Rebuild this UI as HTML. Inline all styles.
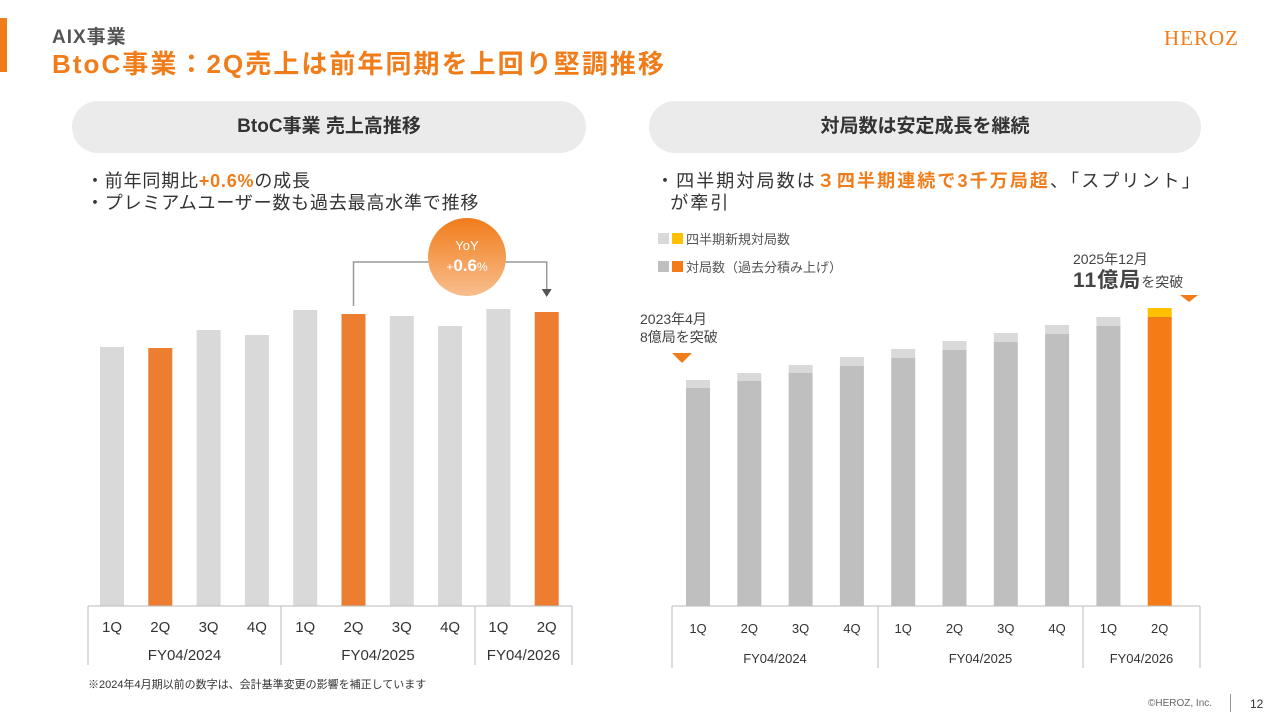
<!DOCTYPE html>
<html><head><meta charset="utf-8">
<style>
body{margin:0;width:1280px;height:720px;background:#fff;overflow:hidden;font-family:"Liberation Sans","Noto Sans CJK JP",sans-serif;position:relative}
.a{position:absolute}
.pill{position:absolute;background:#ebebeb;border-radius:26px;height:52px;line-height:52px;text-align:center;font-weight:bold;font-size:19px;color:#333}
</style></head><body>
<div class="a" style="left:0;top:18px;width:7px;height:54px;background:#f07c1a"></div>
<div class="a" style="left:52px;top:22px;font-size:19px;font-weight:bold;color:#555;letter-spacing:1px">AIX事業</div>
<div class="a" style="left:52px;top:44px;font-size:26px;font-weight:bold;color:#f07c1a;letter-spacing:2.05px">BtoC事業：2Q売上は前年同期を上回り堅調推移</div>
<div class="a" style="left:1164px;top:26px;font-family:'Liberation Serif',serif;font-size:21px;color:#f07c1a;letter-spacing:1px">HEROZ</div>
<div class="pill" style="left:72px;top:101px;width:514px">BtoC事業 売上高推移</div>
<div class="pill" style="left:649px;top:101px;width:552px">対局数は安定成長を継続</div>
<div class="a" style="left:86px;top:170px;font-size:18px;color:#333;line-height:22px;letter-spacing:0.8px">・前年同期比<b style="color:#f07c1a">+0.6%</b>の成長<br>・プレミアムユーザー数も過去最高水準で推移</div>
<div class="a" style="left:656px;top:170px;font-size:18px;color:#333;line-height:22px;letter-spacing:2.1px">・四半期対局数は<b style="color:#f07c1a">３四半期連続で3千万局超</b>、「スプリント」<br>&nbsp;&nbsp;が牽引</div>
<div class="a" style="left:658px;top:226px;font-size:13px;color:#555;line-height:28px">
<div><span style="display:inline-block;width:11px;height:11px;background:#d9d9d9;margin-right:3px"></span><span style="display:inline-block;width:11px;height:11px;background:#ffc000;margin-right:3px"></span>四半期新規対局数</div>
<div><span style="display:inline-block;width:11px;height:11px;background:#bfbfbf;margin-right:3px"></span><span style="display:inline-block;width:11px;height:11px;background:#f47b16;margin-right:3px"></span>対局数（過去分積み上げ）</div></div>
<div class="a" style="left:640px;top:310px;font-size:14px;color:#444;line-height:18px">2023年4月<br>8億局を突破</div>
<div class="a" style="left:1073px;top:249px;font-size:14px;color:#444;line-height:21px">2025年12月<br><b style="font-size:21px;letter-spacing:1px">11億局</b>を突破</div>
<div class="a" style="left:88px;top:676px;font-size:11px;color:#333">※2024年4月期以前の数字は、会計基準変更の影響を補正しています</div>
<div class="a" style="left:1148px;top:698px;font-size:10px;color:#666">©HEROZ, Inc.</div>
<div class="a" style="left:1230px;top:694px;width:1px;height:18px;background:#999"></div>
<div class="a" style="left:1250px;top:697px;font-size:12px;color:#333">12</div>
<svg class="a" style="left:0;top:0" width="1280" height="720" id="chart"></svg>
<script>
const quarters=["1Q","2Q","3Q","4Q","1Q","2Q","3Q","4Q","1Q","2Q"];
const fiscalYears=["FY04/2024","FY04/2025","FY04/2026"];
const salesValues=[259,258,276,271,296,292,290,280,297,294];
const cumulativeGames=[218,225,233,240,248,256,264,272,280,289];
const newGames=[8,8,8,9,9,9,9,9,9,9];
const highlight=[1,5,9];
const svg=document.getElementById('chart');
const NS='http://www.w3.org/2000/svg';
function mk(t,a,p){const e=document.createElementNS(NS,t);for(const k in a)e.setAttribute(k,a[k]);(p||svg).appendChild(e);return e;}
const base=606;
const lx=i=>112+i*48.3, ly=v=>base-v;
salesValues.forEach((v,i)=>{
 const r=mk('rect',{x:lx(i)-12,y:ly(v),width:24,height:base-ly(v),fill:highlight.includes(i)?'#ed7d31':'#d9d9d9'});
 
 
});
const rx=i=>698+i*51.3, ry=v=>base-v;
cumulativeGames.forEach((v,i)=>{
 const last=i===cumulativeGames.length-1;
 const r=mk('rect',{x:rx(i)-12,y:ry(v),width:24,height:base-ry(v),fill:last?'#f47b16':'#bfbfbf'});
 
 
 const n=mk('rect',{x:rx(i)-12,y:ry(v+newGames[i]),width:24,height:ry(v)-ry(v+newGames[i]),fill:last?'#ffc000':'#d9d9d9'});
 
 
});
function table(x0,x1,xf,qy,fy,seps,bottom,fs){
 mk('line',{x1:x0,y1:base,x2:x1,y2:base,stroke:'#bbb'});
 [x0,x1].forEach(x=>mk('line',{x1:x,y1:base,x2:x,y2:bottom,stroke:'#bbb'}));
 seps.forEach(x=>mk('line',{x1:x,y1:base,x2:x,y2:bottom,stroke:'#bbb'}));
 quarters.forEach((q,i)=>{const t=mk('text',{x:xf(i),y:qy,'text-anchor':'middle','font-size':fs,fill:'#333'});t.textContent=q;
  });
 const edges=[x0,...seps,x1];
 fiscalYears.forEach((f,i)=>{const t=mk('text',{x:(edges[i]+edges[i+1])/2,y:fy,'text-anchor':'middle','font-size':fs,fill:'#333'});t.textContent=f;
  });
}
table(88,572,lx,632,660,[281,475],665,15);
table(672,1200,rx,633,663,[878,1083],668,13);
mk('polyline',{points:`${lx(5)},${ly(salesValues[5])-8} ${lx(5)},262 ${lx(9)},262 ${lx(9)},290`,fill:'none',stroke:'#999','stroke-width':1.5});
mk('polygon',{points:`${lx(9)-5},289 ${lx(9)+5},289 ${lx(9)},297`,fill:'#555'});
const g=mk('defs',{});const lg=mk('linearGradient',{id:'og',x1:0,y1:0,x2:0,y2:1},g);
mk('stop',{offset:0,'stop-color':'#f07c1a'},lg);mk('stop',{offset:1,'stop-color':'#f8be8e'},lg);
const c=mk('circle',{cx:467,cy:257,r:39,fill:'url(#og)'});

let t=mk('text',{x:467,y:250,'text-anchor':'middle','font-size':13,fill:'#fff'});t.textContent='YoY';
t=mk('text',{x:467,y:271,'text-anchor':'middle','font-size':12,fill:'#fff'});t.innerHTML='+<tspan font-size="17" font-weight="bold">0.6</tspan>%';
mk('polygon',{points:'672,353 692,353 682,363',fill:'#f07c1a'});
mk('polygon',{points:'1180,295 1198,295 1189,302',fill:'#f07c1a'});
</script>
</body></html>
